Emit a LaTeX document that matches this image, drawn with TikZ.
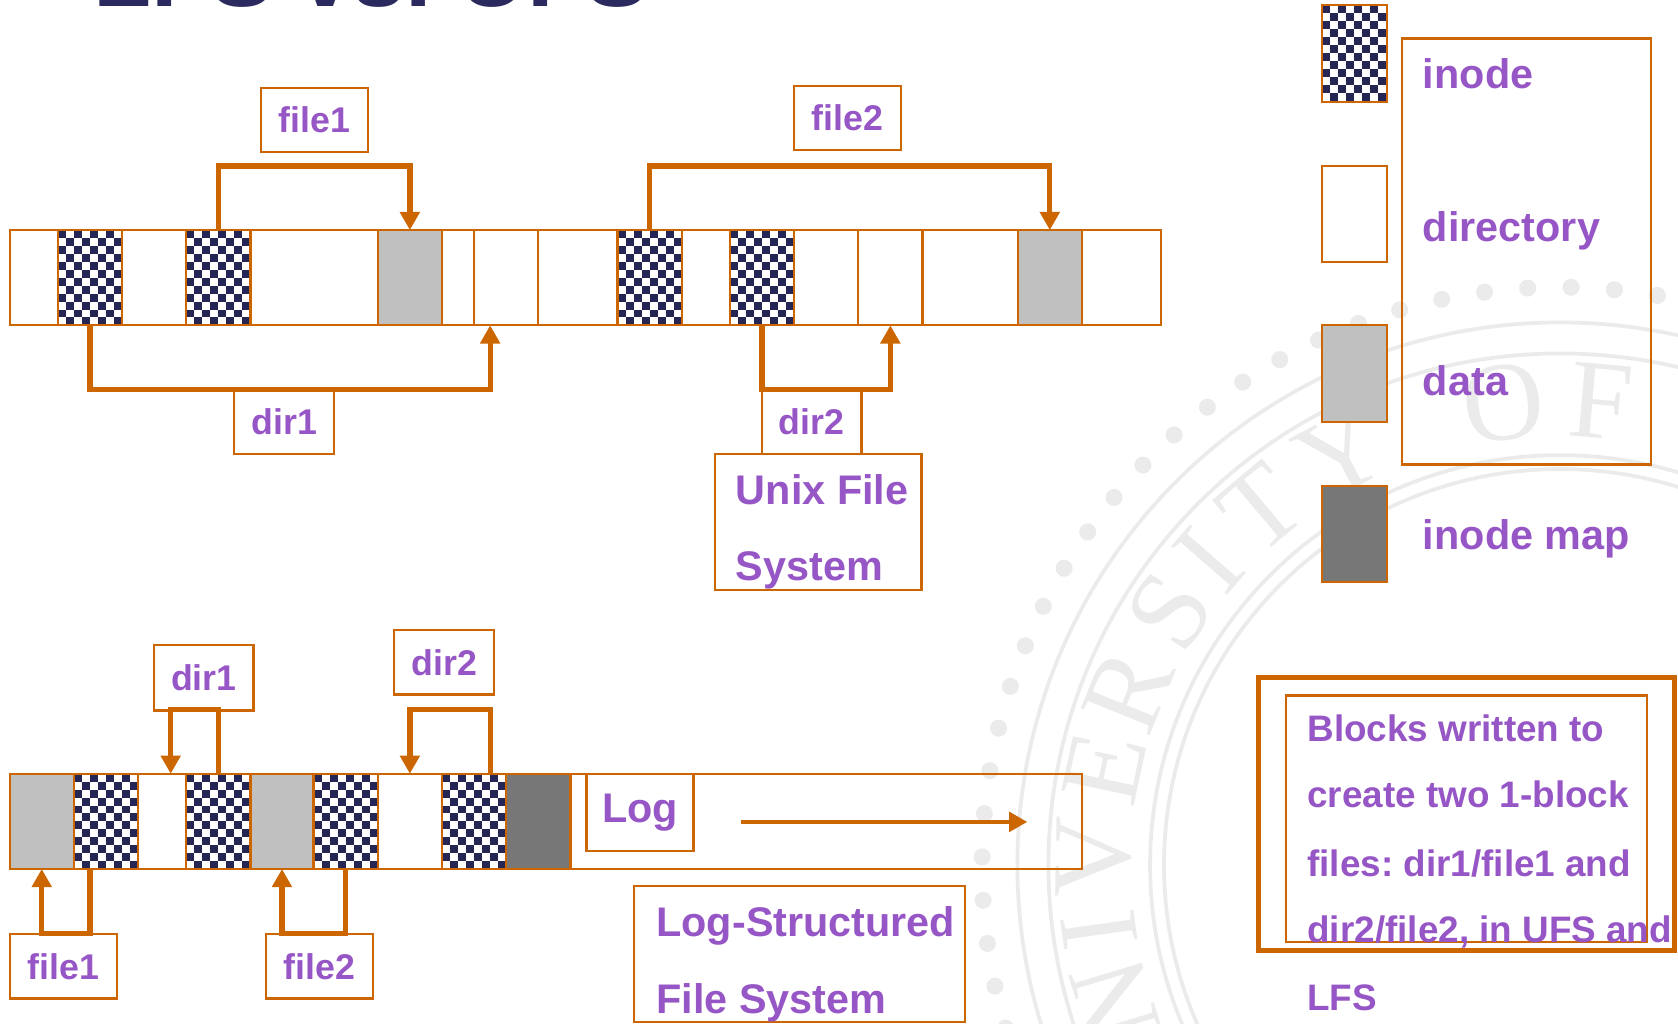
\documentclass[tikz,border=0pt]{standalone}
\usepackage{fontspec}
\setmainfont{Liberation Sans}
\newfontfamily\sealfont{Liberation Serif}
\usepackage{tikz}
\usetikzlibrary{arrows.meta,calc}
\definecolor{lfsorange}{HTML}{CC6600}
\definecolor{lfspurple}{HTML}{9656C6}
\definecolor{chkblue}{HTML}{262654}
\definecolor{datagray}{HTML}{C0C0C0}
\definecolor{mapgray}{HTML}{777777}
\definecolor{titleblue}{HTML}{2A2A5E}
\definecolor{sealgray}{HTML}{EBEBEB}
\frenchspacing

\newcommand\chkblock[1]{%
  \begin{scope}
    \clip (#1.north west) rectangle (#1.south east);
    \begin{scope}[shift={(#1.north west)}]
      \foreach \i in {0,...,8} \foreach \j in {0,...,12} {
        \pgfmathtruncatemacro\chkodd{mod(\i+\j,2)}
        \ifnum\chkodd=0 \fill[chkblue] (\i*7.5,\j*7.42) rectangle ++(7.5,7.42);\fi}
    \end{scope}
  \end{scope}
  \draw[lfsorange,line width=0.6pt] (#1.north west) rectangle (#1.south east);}

\begin{document}
\begin{tikzpicture}[x=0.1mm,y=-0.1mm,
    cell/.style={draw=lfsorange,line width=0.6pt,minimum height=8.9mm,inner sep=0,outer sep=0},
    inodeblk/.style={cell},
    freeblk/.style={cell},
    datablk/.style={cell,fill=datagray},
    mapblk/.style={cell,fill=mapgray},
    lbl/.style={draw=lfsorange,line width=0.6pt,text=lfspurple,inner sep=0,
      font=\bfseries\fontsize{9.5}{11}\selectfont},
    big/.style={text=lfspurple,font=\bfseries\fontsize{11}{13}\selectfont,anchor=base west,inner sep=0},
    note/.style={text=lfspurple,font=\bfseries\fontsize{9.8}{12}\selectfont,anchor=base west,inner sep=0},
    boxframe/.style={draw=lfsorange,line width=0.6pt,inner sep=0,outer sep=0,anchor=north west},
    link/.style={draw=lfsorange,line width=1.4pt,-{Triangle[width=1.8mm,length=1.7mm]}}]
  \useasboundingbox (0,0) rectangle (1568,956);
  \clip (0,0) rectangle (1568,956);

  % seal in the background
  \begin{scope}[shift={(1457.7,808.3)},yscale=-1,sealgray]
    \draw[line width=1pt] (0,0) circle (507) (0,0) circle (478) (0,0) circle (383) (0,0) circle (370);
    \foreach \a in {41.6,45.9,...,206} \fill (\a:540) circle (8);
    \foreach \ch/\a in {U/208,N/197,I/188,V/179,E/168,R/158,S/147,I/139,T/130,Y/118,O/97,F/85}
      \node[rotate=\a-90,font=\sealfont\fontsize{30}{30}\selectfont,text=sealgray] at (\a:435) {\ch};
  \end{scope}

  \node[anchor=base west,inner sep=0,text=titleblue,font=\bfseries\fontsize{25.3}{30}\selectfont] (title) at (87,5.6) {LFS vs. UFS};

  % Unix File System
  \foreach \n/\xa/\xb/\kind in {u1/9/54/freeblk,u2/54/114/inodeblk,u3/114/174/freeblk,u4/174/234/inodeblk,
      u5/234/353/freeblk,u6/353/413/datablk,u7/413/443/freeblk,u8/443/503/freeblk,u9/503/577/freeblk,
      u10/577/637/inodeblk,u11/637/682/freeblk,u12/682/742/inodeblk,u13/742/802/freeblk,
      u14/802/862/freeblk,u15/862/951/freeblk,u16/951/1011/datablk,u17/1011/1085/freeblk}
    \node[\kind,minimum width={(\xb-\xa)*0.1mm}] (\n) at ({(\xa+\xb)/2},259.5) {};
  \foreach \n in {u2,u4,u10,u12} \chkblock{\n};

  \node[lbl,minimum width=10mm,minimum height=6mm] (ufile1) at (294,112) {file1};
  \node[lbl,minimum width=10mm,minimum height=6mm] (ufile2) at (792,110) {file2};
  \node[lbl,minimum width=9.3mm,minimum height=6mm] (udir1) at (265.5,394) {dir1};
  \node[lbl,minimum width=9.3mm,minimum height=6mm] (udir2) at (758.5,394) {dir2};

  \draw[link] (u4.north) -- ++(0,-60) -| (u6.north);
  \draw[link] (u10.north) -- ++(0,-60) -| (u16.north);
  \draw[link] (u2.south) -- ++(0,60) -| ($(u8.south)+(-15,0)$);
  \draw[link] (u12.south) -- ++(0,60) -| (u14.south);

  \node[boxframe,minimum width=19.3mm,minimum height=12.7mm] (ufsbox) at (668,424) {};
  \node[big] (ufs1) at (687,471) {Unix File};
  \node[big] (ufs2) at (687,542) {System};

  % Log-Structured File System
  \foreach \n/\xa/\xb/\kind in {l1/9/69/datablk,l2/69/129/inodeblk,l3/129/174/freeblk,l4/174/234/inodeblk,
      l5/234/293/datablk,l6/293/353/inodeblk,l7/353/413/freeblk,l8/413/473/inodeblk,
      l9/473/533/mapblk,l10/533/1011/freeblk}
    \node[\kind,minimum width={(\xb-\xa)*0.1mm}] (\n) at ({(\xa+\xb)/2},767.5) {};
  \foreach \n in {l2,l4,l6,l8} \chkblock{\n};

  \node[lbl,minimum width=9.3mm,minimum height=6.1mm] (ldir1) at (190.5,633.5) {dir1};
  \node[lbl,minimum width=9.3mm,minimum height=6mm] (ldir2) at (415,619) {dir2};
  \node[lbl,minimum width=10mm,minimum height=6mm] (lfile1) at (59,903) {file1};
  \node[lbl,minimum width=10mm,minimum height=6mm] (lfile2) at (298.5,903) {file2};

  \draw[link] (l4.north) -- ++(0,-60) -| ($(l3.north)+(8,0)$);
  \draw[link] ($(l8.north)+(15,0)$) -- ++(0,-60) -| (l7.north);
  \draw[link] ($(l2.south)+(-15,0)$) -- ++(0,60) -| (l1.south);
  \draw[link] (l6.south) -- ++(0,60) -| (l5.south);

  \node[lbl,font=\bfseries\fontsize{11}{13}\selectfont,minimum width=10mm,minimum height=7.2mm] (logbox) at (598,759) {Log};
  \coordinate (logstart) at (692,768);
  \coordinate (logend) at (960,768);
  \draw[link,line width=1.2pt] (logstart) -- (logend);

  \node[boxframe,minimum width=30.95mm,minimum height=12.7mm] (lfsbox) at (592.5,828) {};
  \node[big] (lfs1) at (612.7,875.5) {Log-Structured};
  \node[big] (lfs2) at (612.7,946.7) {File System};

  % key
  \node[inodeblk,minimum width=6.1mm,minimum height=9mm] (keyinode) at (1265.5,50) {};
  \chkblock{keyinode}
  \node[freeblk,minimum width=6.1mm,minimum height=9mm] (keydir) at (1265.5,200) {};
  \node[datablk,minimum width=6.1mm,minimum height=9mm] (keydata) at (1265.5,349) {};
  \node[mapblk,minimum width=6.1mm,minimum height=9mm] (keymap) at (1265.5,499) {};
  \node[boxframe,minimum width=23.3mm,minimum height=39.8mm] (keybox) at (1310,36) {};
  \node[big] (keyt1) at (1329,83) {inode};
  \node[big] (keyt2) at (1329,226) {directory};
  \node[big] (keyt3) at (1329,370) {data};
  \node[big] (keyt4) at (1329,513) {inode map};

  % note
  \node[boxframe,line width=1.4pt,minimum width=38.9mm,minimum height=25.5mm] (noteout) at (1176,633) {};
  \node[boxframe,minimum width=33.7mm,minimum height=23mm] (notein) at (1202,650) {};
  \node[note] (note1) at (1221,693) {Blocks written to};
  \node[note] (note2) at (1221,755) {create two 1-block};
  \node[note] (note3) at (1221,819) {files: dir1/file1 and};
  \node[note] (note4) at (1221,881) {dir2/file2, in UFS and};
  \node[note] (note5) at (1221,944) {LFS};
\end{tikzpicture}
\end{document}
